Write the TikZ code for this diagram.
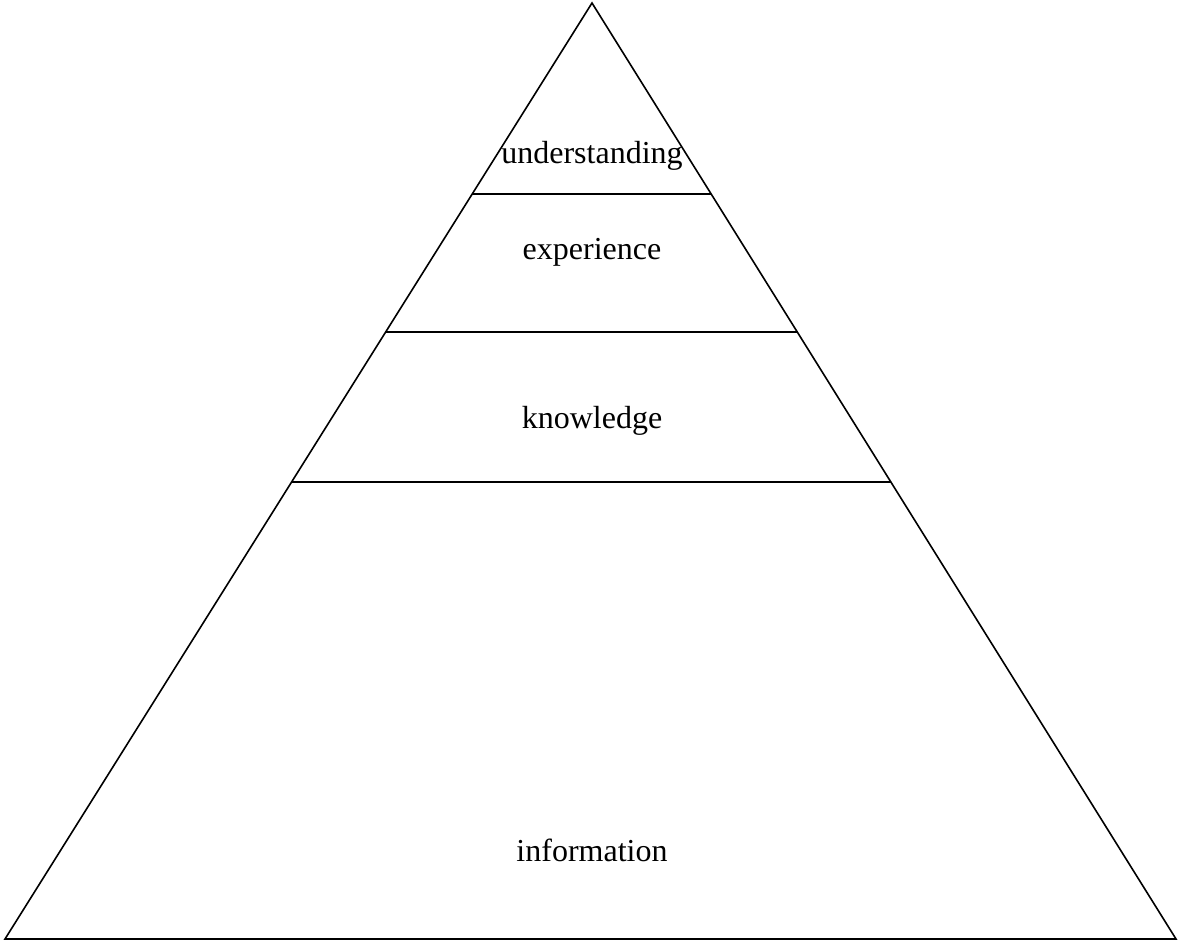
\documentclass[tikz,border=0pt]{standalone}
\usepackage{fontspec}
\setmainfont{Liberation Serif}
\usetikzlibrary{calc}
\begin{document}
\begin{tikzpicture}[x=1pt,y=-1pt,
  edge/.style={draw=black,line width=1.6pt,line join=miter},
  level/.style={font=\fontsize{32}{38}\selectfont,anchor=base,inner sep=0pt}]
\useasboundingbox (0,0) rectangle (1181,941);
\coordinate (apex) at (592,3);
\coordinate (bl) at (5,939);
\coordinate (br) at (1176,939);
\draw[edge] (apex) -- (bl) -- (br) -- cycle;
\coordinate (l1) at ($(apex)!0.204!(bl)$);
\coordinate (r1) at ($(apex)!0.204!(br)$);
\coordinate (l2) at ($(apex)!0.3515!(bl)$);
\coordinate (r2) at ($(apex)!0.3515!(br)$);
\coordinate (l3) at ($(apex)!0.5118!(bl)$);
\coordinate (r3) at ($(apex)!0.5118!(br)$);
\draw[edge] (l1) -- (r1);
\draw[edge] (l2) -- (r2);
\draw[edge] (l3) -- (r3);
\node[level] (und) at (592,164) {understanding};
\node[level] (exp) at (592,260) {experience};
\node[level] (kno) at (592,428) {knowledge};
\node[level] (inf) at (592,861) {information};
\end{tikzpicture}
\end{document}
